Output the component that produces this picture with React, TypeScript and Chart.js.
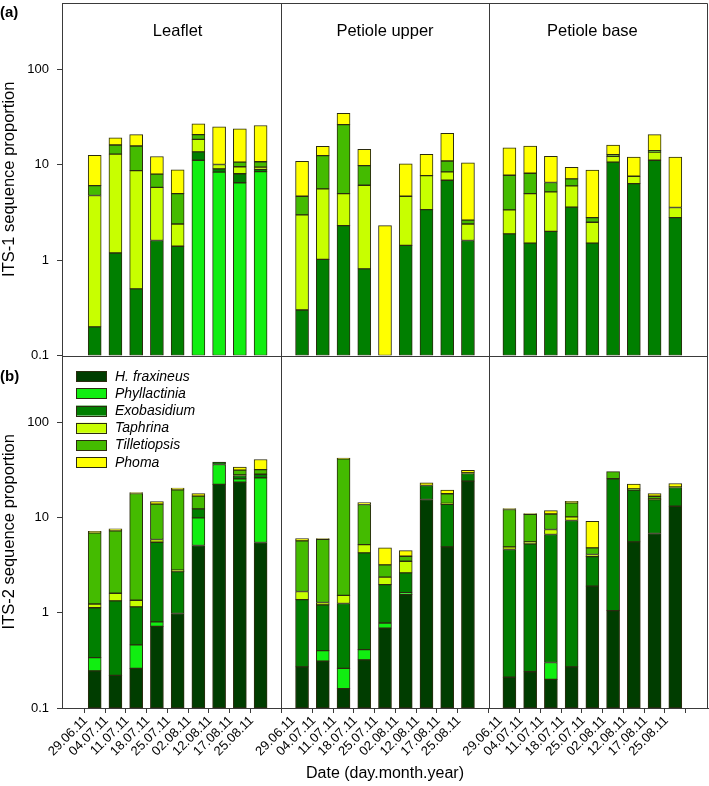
import React, { useEffect, useRef } from 'react';
import { Chart, registerables } from 'chart.js';
Chart.register(...registerables);

const FONT = "'Liberation Sans', Arial, Helvetica, sans-serif";

const dates = ['29.06.11', '04.07.11', '11.07.11', '18.07.11', '25.07.11', '02.08.11', '12.08.11', '17.08.11', '25.08.11'];
const tissues = ['Leaflet', 'Petiole upper', 'Petiole base'];
const taxa = ['H. fraxineus', 'Phyllactinia', 'Exobasidium', 'Taphrina', 'Tilletiopsis', 'Phoma'];
const taxaColors = ['#003d00', '#11ee11', '#007f00', '#c8ff00', '#44bb00', '#ffff00'];
const yTicks = [0.1, 1, 10, 100];

// ITS-1 (a): Leaflet (9 dates), Petiole upper (9), Petiole base (9)
const its1HFraxineus = [0, 0, 0, 0, 0, 0, 0, 0, 0, 0, 0, 0, 0, 0, 0, 0, 0, 0, 0, 0, 0, 0, 0, 0, 0, 0, 0];
const its1Phyllactinia = [0, 0, 0, 0, 0, 11.2, 8.4, 6.5, 8.5, 0, 0, 0, 0, 0, 0, 0, 0, 0, 0, 0, 0, 0, 0, 0, 0, 0, 0];
const its1Exobasidium = [0.2, 1.19, 0.5, 1.61, 1.4, 2.5, 0.7, 1.58, 0.48, 0.3, 1.02, 2.31, 0.81, 0, 1.43, 3.4, 6.9, 1.61, 1.89, 1.51, 2.01, 3.6, 1.51, 10.7, 6.37, 11.2, 2.8];
const its1Taphrina = [4.57, 11.8, 8.2, 4.2, 1.0, 4.8, 1.0, 1.48, 0.51, 2.69, 4.58, 2.69, 5.31, 0, 3.26, 4.33, 1.55, 0.79, 1.48, 3.49, 3.2, 2.42, 0.99, 1.6, 1.24, 2.4, 0.77];
const its1Tilletiopsis = [1.3, 3.2, 7.1, 2.2, 2.6, 2.3, 0, 1.15, 1.3, 1.7, 6.9, 21.5, 3.72, 0, 0, 0, 2.55, 0.23, 4.42, 3.18, 1.32, 1.11, 0.3, 0.5, 0, 0.5, 0];
const its1Phoma = [6.5, 3.0, 5.0, 4.25, 3.9, 6.2, 15.0, 13.2, 15.1, 6.2, 3.2, 8.3, 4.76, 2.31, 5.6, 5.2, 10.5, 7.9, 7.3, 7.6, 5.8, 2.32, 6.0, 3.3, 4.5, 6.7, 8.5];

// ITS-2 (b)
const its2HFraxineus = [0.245, 0.22, 0.26, 0.72, 0.98, 5.07, 22.2, 23.4, 5.45, 0.27, 0.31, 0.16, 0.32, 0.69, 1.55, 15.4, 4.91, 24.0, 0.21, 0.24, 0.2, 0.27, 1.9, 1.05, 5.54, 6.78, 13.1];
const its2Phyllactinia = [0.093, 0, 0.2, 0.08, 0, 4.83, 13.7, 2.0, 20.6, 0, 0.09, 0.1, 0.09, 0.09, 0.07, 0, 0, 0, 0, 0, 0.1, 0, 0, 0, 0, 0, 0];
const its2Exobasidium = [0.79, 1.11, 0.69, 4.69, 1.72, 2.4, 2.1, 2.1, 2.3, 1.1, 0.81, 0.99, 3.83, 1.19, 1.0, 6.2, 8.8, 4.9, 4.39, 5.04, 6.31, 9.0, 1.98, 24.4, 13.8, 8.6, 7.5];
const its2Taphrina = [0.106, 0.27, 0.2, 0.37, 0.1, 0, 0, 0.4, 0, 0.3, 0.07, 0.27, 0.95, 0.39, 0.85, 0, 0.3, 0.5, 0.31, 0.26, 0.85, 0.87, 0.2, 0, 0, 0.3, 0.3];
const its2Tilletiopsis = [5.64, 5.62, 16.45, 7.9, 16.7, 4.4, 0, 3.4, 3.4, 4.0, 4.6, 39.7, 8.46, 0.81, 0.44, 0, 3.7, 0, 7.2, 5.2, 3.4, 4.05, 0.71, 4.8, 0.6, 1.0, 0];
const its2Phoma = [0.25, 0.36, 0.4, 0.9, 0.8, 1.1, 0, 2.5, 8.8, 0.33, 0.1, 0.6, 0.65, 1.62, 0.58, 1.5, 1.6, 1.7, 0.3, 0.2, 0.9, 0.6, 4.33, 0, 2.5, 1.1, 1.8];

const its1 = [its1HFraxineus, its1Phyllactinia, its1Exobasidium, its1Taphrina, its1Tilletiopsis, its1Phoma];
const its2 = [its2HFraxineus, its2Phyllactinia, its2Exobasidium, its2Taphrina, its2Tilletiopsis, its2Phoma];

const LINE = '#3a3a3a';

const decor = {
  id: 'decor',
  afterDatasetsDraw(chart: any) {
    const { ctx, chartArea: a, scales } = chart;
    const x = scales.x;
    const yT = scales.yTop;
    ctx.save();
    ctx.strokeStyle = LINE;
    ctx.lineWidth = 1;
    const L = Math.round(a.left) + 0.5;
    const R = Math.round(a.right) - 0.5;
    const T = Math.round(a.top) + 0.5;
    const B = Math.round(a.bottom) + 0.5;
    ctx.beginPath();
    ctx.moveTo(L, T); ctx.lineTo(R, T); ctx.lineTo(R, B); ctx.lineTo(L, B); ctx.closePath();
    const mid = Math.round(yT.bottom) + 0.5;
    ctx.moveTo(L, mid); ctx.lineTo(R, mid);
    [10, 20].forEach((v) => {
      const px = Math.round(x.getPixelForValue(v)) + 0.5;
      ctx.moveTo(px, T); ctx.lineTo(px, B);
    });
    ctx.stroke();
    ctx.restore();
  },
  afterDraw(chart: any) {
    const { ctx, chartArea: a, scales } = chart;
    const x = scales.x;
    const yT = scales.yTop;
    const yB = scales.yBot;
    ctx.save();
    ctx.fillStyle = '#000';
    // panel titles
    ctx.font = `16.5px ${FONT}`;
    ctx.textAlign = 'center';
    ctx.textBaseline = 'alphabetic';
    tissues.forEach((t, i) => {
      ctx.fillText(t, x.getPixelForValue(i * 10 + 5), yT.top + 32.5);
    });
    // panel letters
    ctx.font = `bold 15px ${FONT}`;
    ctx.textAlign = 'left';
    ctx.textBaseline = 'middle';
    ctx.fillText('(a)', 0, 12.5);
    ctx.fillText('(b)', 0, yB.top + 21);
    // legend
    const rowH = 17.2;
    taxa.forEach((name, i) => {
      const cy = yB.top + 20.7 + i * rowH;
      ctx.fillStyle = taxaColors[i];
      ctx.fillRect(a.left + 14, cy - 5, 31, 10);
      ctx.strokeStyle = '#2b2b10';
      ctx.lineWidth = 1;
      ctx.strokeRect(a.left + 14.5, Math.round(cy - 5) + 0.5, 30, 10);
      ctx.fillStyle = '#000';
      ctx.font = `italic 14px ${FONT}`;
      ctx.fillText(name, a.left + 53, cy + 0.5);
    });
    ctx.restore();
  },
};

export default function App() {
  const ref = useRef<HTMLCanvasElement>(null);
  useEffect(() => {
    Chart.defaults.font.family = FONT;
    Chart.defaults.color = '#000';
    const positions = tissues.flatMap((_, t) => dates.map((_, i) => t * 10 + i + 1));
    const mk = (series: number[][], axis: string) =>
      series.map((vals, k) => ({
        label: taxa[k],
        data: vals.map((v, i) => ({ x: positions[i], y: v })),
        backgroundColor: taxaColors[k],
        borderColor: '#2b2b10',
        borderWidth: 1,
        borderSkipped: false,
        yAxisID: axis,
        xAxisID: 'x',
        barThickness: 13,
      }));

    const yScale = (title: string) => ({
      type: 'logarithmic',
      position: 'left',
      stack: 'rows',
      stackWeight: 1,
      stacked: true,
      min: 0.1,
      max: 500,
      afterFit: (s: any) => { s.width = 62; s.paddingTop = 0; s.paddingBottom = 0; },
      afterBuildTicks: (s: any) => { s.ticks = yTicks.map((v) => ({ value: v })); },
      ticks: {
        autoSkip: false,
        padding: 8,
        font: { size: 13 },
        color: '#000',
        callback: (v: any) => (v === 0.1 ? '0.1' : String(v)),
      },
      grid: { drawOnChartArea: false, drawTicks: true, tickLength: 5, color: LINE },
      border: { display: true, color: LINE },
      title: { display: true, text: title, font: { size: 16.5 }, color: '#000', padding: { top: 0, bottom: 0 } },
    });

    const chart = new Chart(ref.current as HTMLCanvasElement, {
      type: 'bar',
      data: { datasets: [...mk(its1, 'yTop'), ...mk(its2, 'yBot')] as any },
      options: {
        animation: false,
        responsive: false,
        maintainAspectRatio: false,
        layout: { padding: { top: 3, right: 1, left: 0, bottom: 0 } },
        plugins: { legend: { display: false }, tooltip: { enabled: false } },
        scales: {
          x: {
            type: 'linear',
            min: 0,
            max: 30,
            stacked: true,
            afterFit: (s: any) => { s.height = 78; s.paddingLeft = 0; s.paddingRight = 0; },
            afterBuildTicks: (s: any) => { s.ticks = positions.map((v) => ({ value: v })); },
            ticks: {
              autoSkip: false,
              minRotation: 45,
              maxRotation: 45,
              padding: 0,
              labelOffset: -9,
              font: { size: 13 },
              color: '#000',
              callback: (v: any) => dates[(Math.round(v) % 10) - 1],
            },
            grid: { drawOnChartArea: false, drawTicks: true, tickLength: 5, color: LINE },
            border: { display: true, color: LINE },
            title: { display: true, text: 'Date (day.month.year)', font: { size: 16 }, color: '#000', padding: { top: 0, bottom: 3 } },
          },
          yBot: yScale('ITS-2 sequence proportion'),
          yTop: yScale('ITS-1 sequence proportion'),
        } as any,
      },
      plugins: [decor],
    });
    return () => chart.destroy();
  }, []);

  return (
    <div style={{ position: 'fixed', left: 0, top: 0, width: 709, height: 786, background: '#fff' }}>
      <canvas ref={ref} width={709} height={786} style={{ width: 709, height: 786, display: 'block' }} />
    </div>
  );
}
